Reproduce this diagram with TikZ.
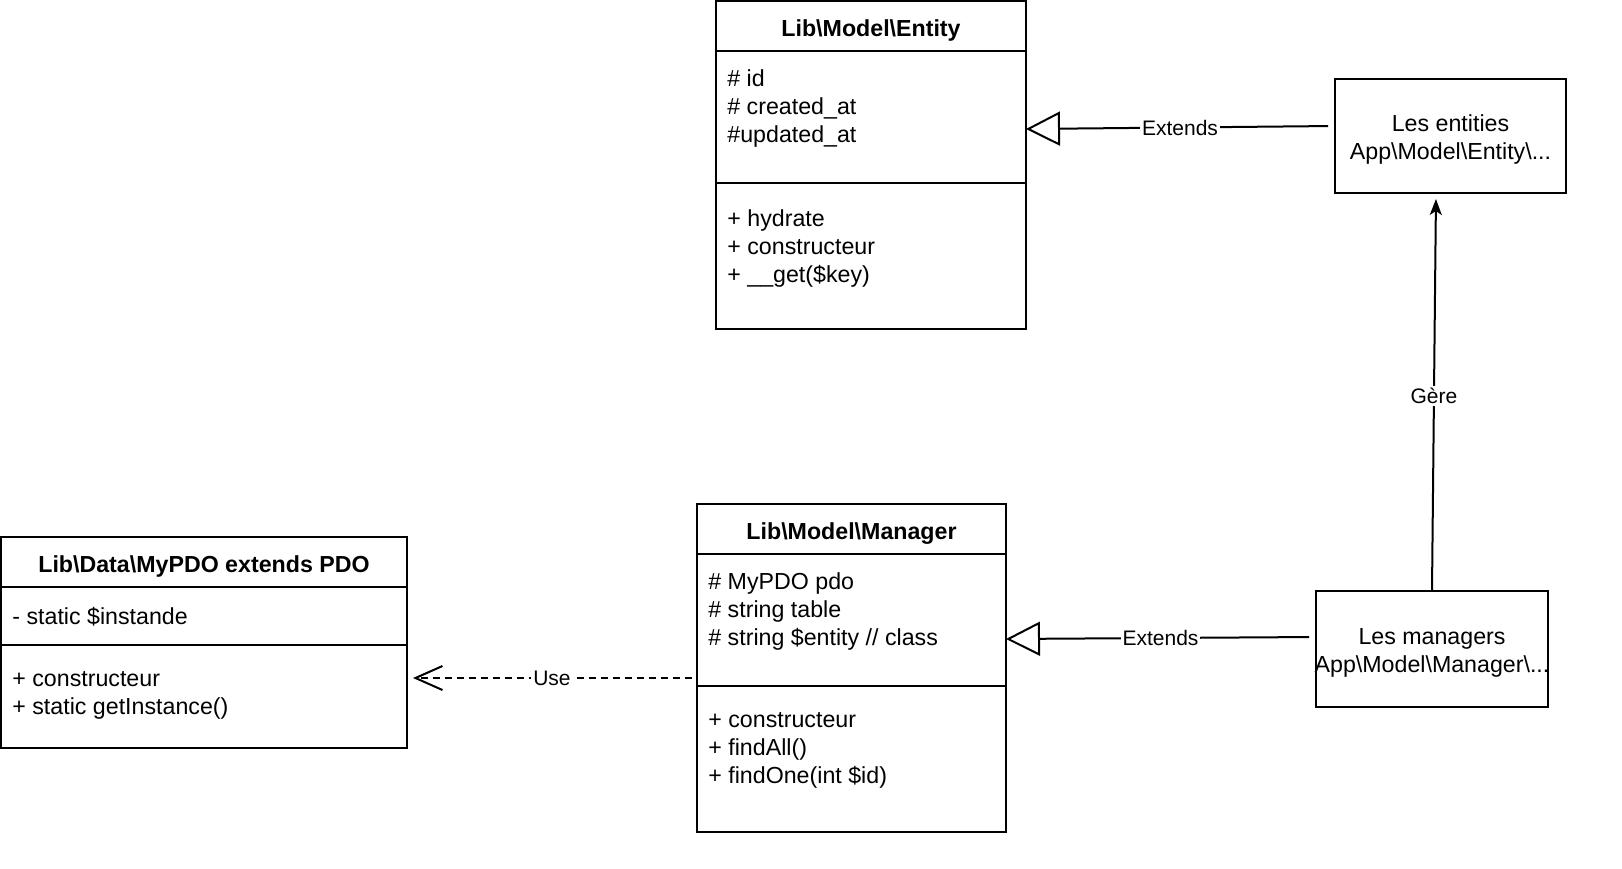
\documentclass[tikz,border=0pt]{standalone}
\usepackage{fontspec}
\setmainfont{Liberation Sans}
\usetikzlibrary{arrows.meta,positioning}
\tikzset{>=latex,
  head/.style={draw,line width=1pt,outer sep=0pt,inner sep=0pt,minimum height=25pt,text height=12.8pt,text depth=2.4pt,font=\bfseries\fontsize{11.6}{14}\selectfont},
  part/.style={draw,line width=1pt,outer sep=0pt,inner sep=0pt},
  members/.style={anchor=north west,inner sep=0pt,align=left,font=\fontsize{11.6}{14}\selectfont,execute at begin node=\strut},
  smallbox/.style={draw,line width=1pt,inner sep=0pt},
  boxtext/.style={inner sep=0pt,align=center,font=\fontsize{11.6}{14}\selectfont},
  link/.style={line width=1pt},
  lbl/.style={fill=white,inner sep=1pt,font=\fontsize{10.5}{12}\selectfont},
  extends/.style={link,-{Triangle[open,length=17pt,width=17pt]}},
}

\begin{document}
\begin{tikzpicture}[x=0.5pt,y=-0.5pt]
  \useasboundingbox (0,0) rectangle (1622,868);
  % Lib\Model\Entity
  \node[head,minimum width=155pt] (entity) at (871,26) {Lib\textbackslash Model\textbackslash Entity};
  \node[part,minimum width=155pt,minimum height=66pt,below=0pt of entity] (entityattr) {};
  \node[part,minimum width=155pt,minimum height=73pt,below=0pt of entityattr] (entitymeth) {};
  \node[members] (entityattrtxt) at ([shift={(5.5pt,-9pt)}]entityattr.north west) {\# id\\\# created\_at\\\#updated\_at};
  \node[members] (entitymethtxt) at ([shift={(5.5pt,-13pt)}]entitymeth.north west) {+ hydrate\\+ constructeur\\+ \_\_get(\$key)};
  % Lib\Model\Manager
  \node[head,minimum width=154.5pt] (manager) at (851.5,529) {Lib\textbackslash Model\textbackslash Manager};
  \node[part,minimum width=154.5pt,minimum height=66pt,below=0pt of manager] (managerattr) {};
  \node[part,minimum width=154.5pt,minimum height=73pt,below=0pt of managerattr] (managermeth) {};
  \node[members] (managerattrtxt) at ([shift={(5.5pt,-9pt)}]managerattr.north west) {\# MyPDO pdo\\\# string table\\\# string \$entity // class};
  \node[members] (managermethtxt) at ([shift={(5.5pt,-12.8pt)}]managermeth.north west) {+ constructeur\\+ findAll()\\+ findOne(int \$id)};
  % Lib\Data\MyPDO
  \node[head,minimum width=203pt] (pdo) at (204,562) {Lib\textbackslash Data\textbackslash MyPDO extends PDO};
  \node[part,minimum width=203pt,minimum height=29pt,below=0pt of pdo] (pdoattr) {};
  \node[part,minimum width=203pt,minimum height=51.5pt,below=0pt of pdoattr] (pdometh) {};
  \node[members] (pdoattrtxt) at ([shift={(5.5pt,-8.5pt)}]pdoattr.north west) {- static \$instande};
  \node[members] (pdomethtxt) at ([shift={(5.5pt,-13pt)}]pdometh.north west) {+ constructeur\\+ static getInstance()};
  % App classes
  \node[smallbox,minimum width=115.5pt,minimum height=57pt] (entities) at (1450.5,136) {};
  \node[boxtext] (entitiestxt) at ([yshift=-1.75pt]entities.center) {Les entities\\App\textbackslash Model\textbackslash Entity\textbackslash...};
  \node[smallbox,minimum width=116pt,minimum height=58pt] (managers) at (1432,649) {};
  \node[boxtext] (managerstxt) at ([yshift=-1.75pt]managers.center) {Les managers\\App\textbackslash Model\textbackslash Manager\textbackslash...};
  % links
  \draw[extends,shorten <=3pt] ([yshift=5pt]entities.west) -- node[lbl] (ext1) {Extends} ([yshift=-6pt]entityattr.east);
  \draw[extends,shorten <=3pt] ([yshift=6pt]managers.west) -- node[lbl] (ext2) {Extends} ([yshift=-9.5pt]managerattr.east);
  \draw[link,-{Stealth[length=8pt,width=6pt,inset=2pt]},shorten >=2.5pt] (managers.north) -- node[lbl,pos=0.49] (gere) {Gère} ([xshift=-7.25pt]entities.south);
  \draw[link,dash pattern=on 3.5pt off 2.5pt,-{Straight Barb[length=13.5pt,width=12pt]},shorten <=2.5pt,shorten >=3pt] ([yshift=-29pt]managerattr.west) -- node[lbl] (use) {Use} ([yshift=9.25pt]pdometh.east);
\end{tikzpicture}
\end{document}
